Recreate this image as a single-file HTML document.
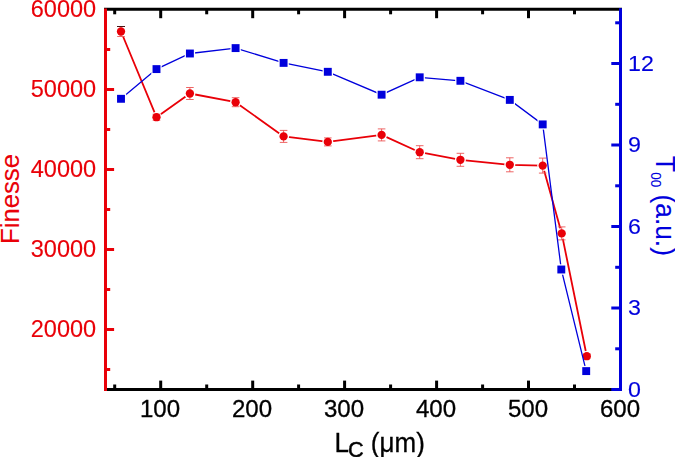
<!DOCTYPE html>
<html><head><meta charset="utf-8"><title>chart</title><style>
html,body{margin:0;padding:0;background:#fff;}
body{width:675px;height:457px;position:relative;overflow:hidden;font-family:"Liberation Sans",sans-serif;}
.t{position:absolute;-webkit-text-stroke:0.12px currentColor;font-size:23.6px;line-height:26px;height:26px;white-space:nowrap;}
.r{color:#e90008}.b{color:#0000dc}.k{color:#000;-webkit-text-stroke:0.3px #000;}
.ttl{position:absolute;-webkit-text-stroke:0.3px currentColor;font-size:26px;line-height:30px;height:30px;white-space:nowrap;}
.ttl.r,.ttl.b{-webkit-text-stroke:0.1px currentColor;}
.sub{-webkit-text-stroke:0.5px #000;font-size:21.7px;position:relative;top:5.2px;margin-left:-1px;}
.sub2{font-size:13.5px;position:relative;top:5.4px;}
</style></head><body>
<svg width="675" height="457" viewBox="0 0 675 457" style="position:absolute;left:0;top:0">
<rect width="675" height="457" fill="#fff"/>
<defs>
<mask id="mr" maskUnits="userSpaceOnUse" x="0" y="0" width="675" height="457"><rect width="675" height="457" fill="#fff"/>
<circle cx="121.0" cy="31.5" r="5.5" fill="#000"/>
<circle cx="156.5" cy="117.2" r="5.5" fill="#000"/>
<circle cx="189.9" cy="93.5" r="5.5" fill="#000"/>
<circle cx="235.6" cy="102.2" r="5.5" fill="#000"/>
<circle cx="283.6" cy="136.4" r="5.5" fill="#000"/>
<circle cx="327.8" cy="141.9" r="5.5" fill="#000"/>
<circle cx="381.6" cy="134.9" r="5.5" fill="#000"/>
<circle cx="419.7" cy="152.2" r="5.5" fill="#000"/>
<circle cx="460.4" cy="159.8" r="5.5" fill="#000"/>
<circle cx="509.8" cy="164.8" r="5.5" fill="#000"/>
<circle cx="542.7" cy="165.6" r="5.5" fill="#000"/>
<circle cx="561.7" cy="233.4" r="5.5" fill="#000"/>
<circle cx="586.8" cy="356.2" r="5.5" fill="#000"/>
</mask>
<mask id="mb" maskUnits="userSpaceOnUse" x="0" y="0" width="675" height="457"><rect width="675" height="457" fill="#fff"/>
<rect x="115.8" y="93.6" width="10.4" height="10.4" fill="#000"/>
<rect x="151.3" y="63.9" width="10.4" height="10.4" fill="#000"/>
<rect x="184.7" y="48.3" width="10.4" height="10.4" fill="#000"/>
<rect x="230.4" y="42.9" width="10.4" height="10.4" fill="#000"/>
<rect x="278.4" y="57.7" width="10.4" height="10.4" fill="#000"/>
<rect x="322.6" y="66.6" width="10.4" height="10.4" fill="#000"/>
<rect x="376.4" y="89.5" width="10.4" height="10.4" fill="#000"/>
<rect x="414.5" y="72.1" width="10.4" height="10.4" fill="#000"/>
<rect x="455.2" y="75.6" width="10.4" height="10.4" fill="#000"/>
<rect x="504.6" y="94.7" width="10.4" height="10.4" fill="#000"/>
<rect x="537.5" y="119.2" width="10.4" height="10.4" fill="#000"/>
<rect x="556.1" y="264.3" width="10.4" height="10.4" fill="#000"/>
<rect x="581.0" y="365.9" width="10.4" height="10.4" fill="#000"/>
</mask>
</defs>
<polyline mask="url(#mr)" fill="none" stroke="#e90008" stroke-width="1.8" stroke-linejoin="round" points="121.0,31.5 156.5,117.2 189.9,93.5 235.6,102.2 283.6,136.4 327.8,141.9 381.6,134.9 419.7,152.2 460.4,159.8 509.8,164.8 542.7,165.6 561.7,233.4 586.8,356.2"/>
<path d="M121.0 26.5V36.5M117.2 26.5h7.6M117.2 36.5h7.6" stroke="#ec5555" stroke-width="0.9" fill="none"/>
<path d="M156.5 114.2V120.2M152.7 114.2h7.6M152.7 120.2h7.6" stroke="#ec5555" stroke-width="0.9" fill="none"/>
<path d="M189.9 87.5V99.5M186.1 87.5h7.6M186.1 99.5h7.6" stroke="#ec5555" stroke-width="0.9" fill="none"/>
<path d="M235.6 97.7V106.7M231.8 97.7h7.6M231.8 106.7h7.6" stroke="#ec5555" stroke-width="0.9" fill="none"/>
<path d="M283.6 130.4V142.4M279.8 130.4h7.6M279.8 142.4h7.6" stroke="#ec5555" stroke-width="0.9" fill="none"/>
<path d="M327.8 137.9V145.9M324.0 137.9h7.6M324.0 145.9h7.6" stroke="#ec5555" stroke-width="0.9" fill="none"/>
<path d="M381.6 128.9V140.9M377.8 128.9h7.6M377.8 140.9h7.6" stroke="#ec5555" stroke-width="0.9" fill="none"/>
<path d="M419.7 145.7V158.7M415.9 145.7h7.6M415.9 158.7h7.6" stroke="#ec5555" stroke-width="0.9" fill="none"/>
<path d="M460.4 153.3V166.3M456.6 153.3h7.6M456.6 166.3h7.6" stroke="#ec5555" stroke-width="0.9" fill="none"/>
<path d="M509.8 157.8V171.8M506.0 157.8h7.6M506.0 171.8h7.6" stroke="#ec5555" stroke-width="0.9" fill="none"/>
<path d="M542.7 158.1V173.1M538.9 158.1h7.6M538.9 173.1h7.6" stroke="#ec5555" stroke-width="0.9" fill="none"/>
<path d="M561.7 226.9V239.9M557.9 226.9h7.6M557.9 239.9h7.6" stroke="#ec5555" stroke-width="0.9" fill="none"/>
<path d="M586.8 354.2V358.2M583.0 354.2h7.6M583.0 358.2h7.6" stroke="#ec5555" stroke-width="0.9" fill="none"/>
<path d="M117.0 26.5h8" stroke="#4a1414" stroke-width="1" fill="none"/>
<circle cx="121.0" cy="31.5" r="4.15" fill="#e90008"/>
<circle cx="156.5" cy="117.2" r="4.15" fill="#e90008"/>
<circle cx="189.9" cy="93.5" r="4.15" fill="#e90008"/>
<circle cx="235.6" cy="102.2" r="4.15" fill="#e90008"/>
<circle cx="283.6" cy="136.4" r="4.15" fill="#e90008"/>
<circle cx="327.8" cy="141.9" r="4.15" fill="#e90008"/>
<circle cx="381.6" cy="134.9" r="4.15" fill="#e90008"/>
<circle cx="419.7" cy="152.2" r="4.15" fill="#e90008"/>
<circle cx="460.4" cy="159.8" r="4.15" fill="#e90008"/>
<circle cx="509.8" cy="164.8" r="4.15" fill="#e90008"/>
<circle cx="542.7" cy="165.6" r="4.15" fill="#e90008"/>
<circle cx="561.7" cy="233.4" r="4.15" fill="#e90008"/>
<circle cx="586.8" cy="356.2" r="4.15" fill="#e90008"/>
<polyline mask="url(#mb)" fill="none" stroke="#0000dc" stroke-width="1.3" points="121.0,98.8 156.5,69.1 189.9,53.5 235.6,48.1 283.6,62.9 327.8,71.8 381.6,94.7 419.7,77.3 460.4,80.8 509.8,99.9 542.7,124.4 561.3,269.5 586.2,371.1"/>
<rect x="117.05" y="94.85" width="7.9" height="7.9" fill="#0000dc"/>
<rect x="152.55" y="65.15" width="7.9" height="7.9" fill="#0000dc"/>
<rect x="185.95" y="49.55" width="7.9" height="7.9" fill="#0000dc"/>
<rect x="231.65" y="44.15" width="7.9" height="7.9" fill="#0000dc"/>
<rect x="279.65" y="58.95" width="7.9" height="7.9" fill="#0000dc"/>
<rect x="323.85" y="67.85" width="7.9" height="7.9" fill="#0000dc"/>
<rect x="377.65" y="90.75" width="7.9" height="7.9" fill="#0000dc"/>
<rect x="415.75" y="73.35" width="7.9" height="7.9" fill="#0000dc"/>
<rect x="456.45" y="76.85" width="7.9" height="7.9" fill="#0000dc"/>
<rect x="505.85" y="95.95" width="7.9" height="7.9" fill="#0000dc"/>
<rect x="538.75" y="120.45" width="7.9" height="7.9" fill="#0000dc"/>
<rect x="557.35" y="265.55" width="7.9" height="7.9" fill="#0000dc"/>
<rect x="582.25" y="367.15" width="7.9" height="7.9" fill="#0000dc"/>
<g stroke="#000" stroke-width="3" fill="none">
<path d="M104.0 389.5H622.0"/>
<path d="M104.0 9.3H622.0"/>
<path d="M114.7 389.5v-5.0"/>
<path d="M114.7 9.3v5.0"/>
<path d="M160.7 389.5v-8.9"/>
<path d="M160.7 9.3v8.9"/>
<path d="M206.7 389.5v-5.0"/>
<path d="M206.7 9.3v5.0"/>
<path d="M252.7 389.5v-8.9"/>
<path d="M252.7 9.3v8.9"/>
<path d="M298.6 389.5v-5.0"/>
<path d="M298.6 9.3v5.0"/>
<path d="M344.6 389.5v-8.9"/>
<path d="M344.6 9.3v8.9"/>
<path d="M390.6 389.5v-5.0"/>
<path d="M390.6 9.3v5.0"/>
<path d="M436.6 389.5v-8.9"/>
<path d="M436.6 9.3v8.9"/>
<path d="M482.6 389.5v-5.0"/>
<path d="M482.6 9.3v5.0"/>
<path d="M528.5 389.5v-8.9"/>
<path d="M528.5 9.3v8.9"/>
<path d="M574.5 389.5v-5.0"/>
<path d="M574.5 9.3v5.0"/>
</g>
<g stroke="#e90008" stroke-width="3" fill="none">
<path d="M105.5 8.4V391.0"/>
<path d="M105.5 369.5h4.7"/>
<path d="M105.5 329.5h8.6"/>
<path d="M105.5 289.5h4.7"/>
<path d="M105.5 249.5h8.6"/>
<path d="M105.5 209.5h4.7"/>
<path d="M105.5 169.5h8.6"/>
<path d="M105.5 129.5h4.7"/>
<path d="M105.5 89.5h8.6"/>
<path d="M105.5 49.5h4.7"/>
</g>
<g stroke="#0000dc" stroke-width="3" fill="none">
<path d="M620.5 8.3V391.0"/>
<path d="M620.5 389.5h-9.2"/>
<path d="M620.5 348.8h-5.3"/>
<path d="M620.5 308.0h-9.2"/>
<path d="M620.5 267.3h-5.3"/>
<path d="M620.5 226.5h-9.2"/>
<path d="M620.5 185.8h-5.3"/>
<path d="M620.5 145.0h-9.2"/>
<path d="M620.5 104.3h-5.3"/>
<path d="M620.5 63.5h-9.2"/>
<path d="M620.5 22.8h-5.3"/>
</g>
</svg>
<div class="t r" style="font-size:23.1px;right:578.7px;top:316.2px;transform:scaleX(1.02);transform-origin:100% 50%;">20000</div>
<div class="t r" style="font-size:23.1px;right:578.7px;top:236.2px;transform:scaleX(1.02);transform-origin:100% 50%;">30000</div>
<div class="t r" style="font-size:23.1px;right:578.7px;top:156.2px;transform:scaleX(1.02);transform-origin:100% 50%;">40000</div>
<div class="t r" style="font-size:23.1px;right:578.7px;top:76.2px;transform:scaleX(1.02);transform-origin:100% 50%;">50000</div>
<div class="t r" style="font-size:23.1px;right:578.7px;top:-3.8px;transform:scaleX(1.02);transform-origin:100% 50%;">60000</div>
<div class="t b" style="font-size:22.8px;left:628.4px;top:375.6px;transform:scaleX(1.02);transform-origin:0 50%;">0</div>
<div class="t b" style="font-size:22.8px;left:628.4px;top:294.1px;transform:scaleX(1.02);transform-origin:0 50%;">3</div>
<div class="t b" style="font-size:22.8px;left:628.4px;top:212.6px;transform:scaleX(1.02);transform-origin:0 50%;">6</div>
<div class="t b" style="font-size:22.8px;left:628.4px;top:131.1px;transform:scaleX(1.02);transform-origin:0 50%;">9</div>
<div class="t b" style="font-size:22.8px;left:628.4px;top:49.6px;transform:scaleX(1.02);transform-origin:0 50%;">12</div>
<div class="t k" style="left:120.4px;top:395.8px;width:80px;text-align:center;transform:scaleX(1.02);">100</div>
<div class="t k" style="left:212.4px;top:395.8px;width:80px;text-align:center;transform:scaleX(1.02);">200</div>
<div class="t k" style="left:304.3px;top:395.8px;width:80px;text-align:center;transform:scaleX(1.02);">300</div>
<div class="t k" style="left:396.3px;top:395.8px;width:80px;text-align:center;transform:scaleX(1.02);">400</div>
<div class="t k" style="left:488.2px;top:395.8px;width:80px;text-align:center;transform:scaleX(1.02);">500</div>
<div class="t k" style="left:580.2px;top:395.8px;width:80px;text-align:center;transform:scaleX(1.02);">600</div>
<div class="ttl k" style="left:334.5px;top:427.9px;transform:scaleY(1.035);transform-origin:0 24px;">L<span class="sub">C</span> (&#956;m)</div>
<div class="ttl r" style="left:9.8px;top:199.2px;width:0;height:0;font-size:25.7px;"><div style="position:absolute;transform:translate(-50%,-50%) rotate(-90deg) scaleY(1.03);line-height:30px;white-space:nowrap;">Finesse</div></div>
<div class="ttl b" style="left:662.5px;top:205.9px;width:0;height:0;font-size:26.3px;"><div style="position:absolute;transform:translate(-50%,-50%) rotate(90deg) scaleY(1.05);line-height:30px;white-space:nowrap;">T<span class="sub2">00</span> (a.u.)</div></div>
</body></html>
